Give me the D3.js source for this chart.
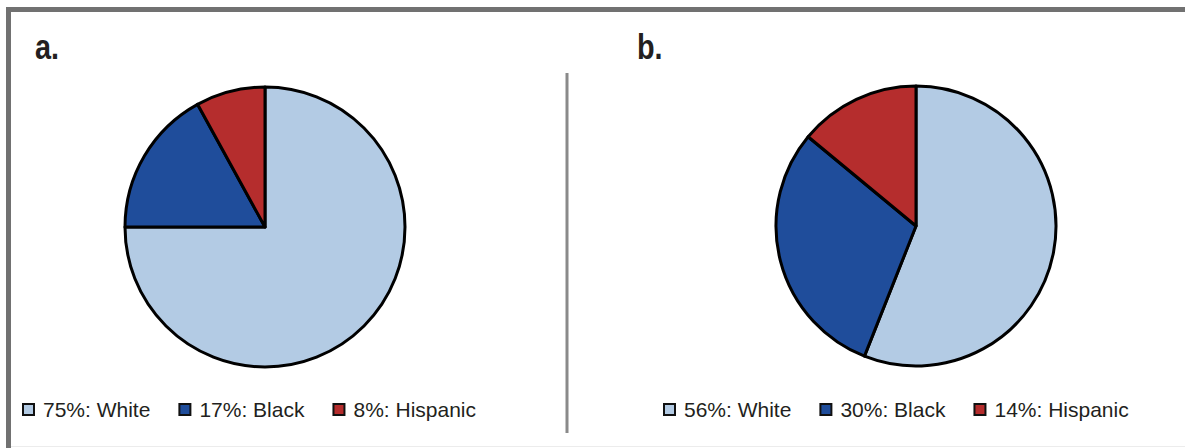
<!DOCTYPE html>
<html><head><meta charset="utf-8">
<script src="https://cdn.jsdelivr.net/npm/d3@7"></script>
<style>body{margin:0;background:#fff}svg{display:block}</style>
</head><body><svg id="c" width="1185" height="448"></svg>
<script>
const categories = ["White", "Black", "Hispanic"];
const valuesA = [75, 17, 8];
const valuesB = [56, 30, 14];
const panelLabels = ["a.", "b."];
const colors = ["#b3cbe4", "#1f4d9b", "#b52d2d"];

const svg = d3.select("#c");
// frame
svg.append("rect").attr("x", 0).attr("y", 0).attr("width", 1185).attr("height", 448).attr("fill", "#fff");
svg.append("line").attr("x1", 6).attr("x2", 1185).attr("y1", 9.5).attr("y2", 9.5).attr("stroke", "#717171").attr("stroke-width", 5);
svg.append("line").attr("x1", 8.5).attr("x2", 8.5).attr("y1", 7).attr("y2", 448).attr("stroke", "#717171").attr("stroke-width", 5);
svg.append("line").attr("x1", 11).attr("x2", 1185).attr("y1", 446.5).attr("y2", 446.5).attr("stroke", "#ececec").attr("stroke-width", 1);
// divider
svg.append("line").attr("x1", 567).attr("x2", 567).attr("y1", 73).attr("y2", 433).attr("stroke", "#8a8a8a").attr("stroke-width", 3);

const panels = [
  {values: valuesA, label: panelLabels[0], cx: 265, cy: 227, lx: 35, legX: 22},
  {values: valuesB, label: panelLabels[1], cx: 916, cy: 226, lx: 637, legX: 663}
];
const pie = d3.pie().sort(null).value(d => d);
const arc = d3.arc().innerRadius(0).outerRadius(140);

panels.forEach(p => {
  svg.append("text").attr("transform", `translate(${p.lx},59) scale(0.8,1)`).text(p.label)
    .attr("font-family", "Liberation Sans, Arial, sans-serif").attr("font-weight", "bold")
    .attr("font-size", 36).attr("fill", "#231f20");
  const g = svg.append("g").attr("transform", `translate(${p.cx},${p.cy})`);
  g.selectAll("path").data(pie(p.values)).join("path")
    .attr("d", arc).attr("fill", (d, i) => colors[i])
    .attr("stroke", "#000").attr("stroke-width", 3).attr("stroke-linejoin", "round");
  // legend
  let x = p.legX;
  p.values.forEach((v, i) => {
    svg.append("rect").attr("x", x + 1).attr("y", 404).attr("width", 11).attr("height", 11)
      .attr("fill", colors[i]).attr("stroke", "#111").attr("stroke-width", 2);
    const t = svg.append("text").attr("x", x + 21).attr("y", 417)
      .text(`${v}%: ${categories[i]}`)
      .attr("font-family", "Liberation Sans, Arial, sans-serif")
      .attr("font-size", 21).attr("fill", "#231f20");
    x += 21 + t.node().getComputedTextLength() + 28;
  });
});
</script></body></html>
